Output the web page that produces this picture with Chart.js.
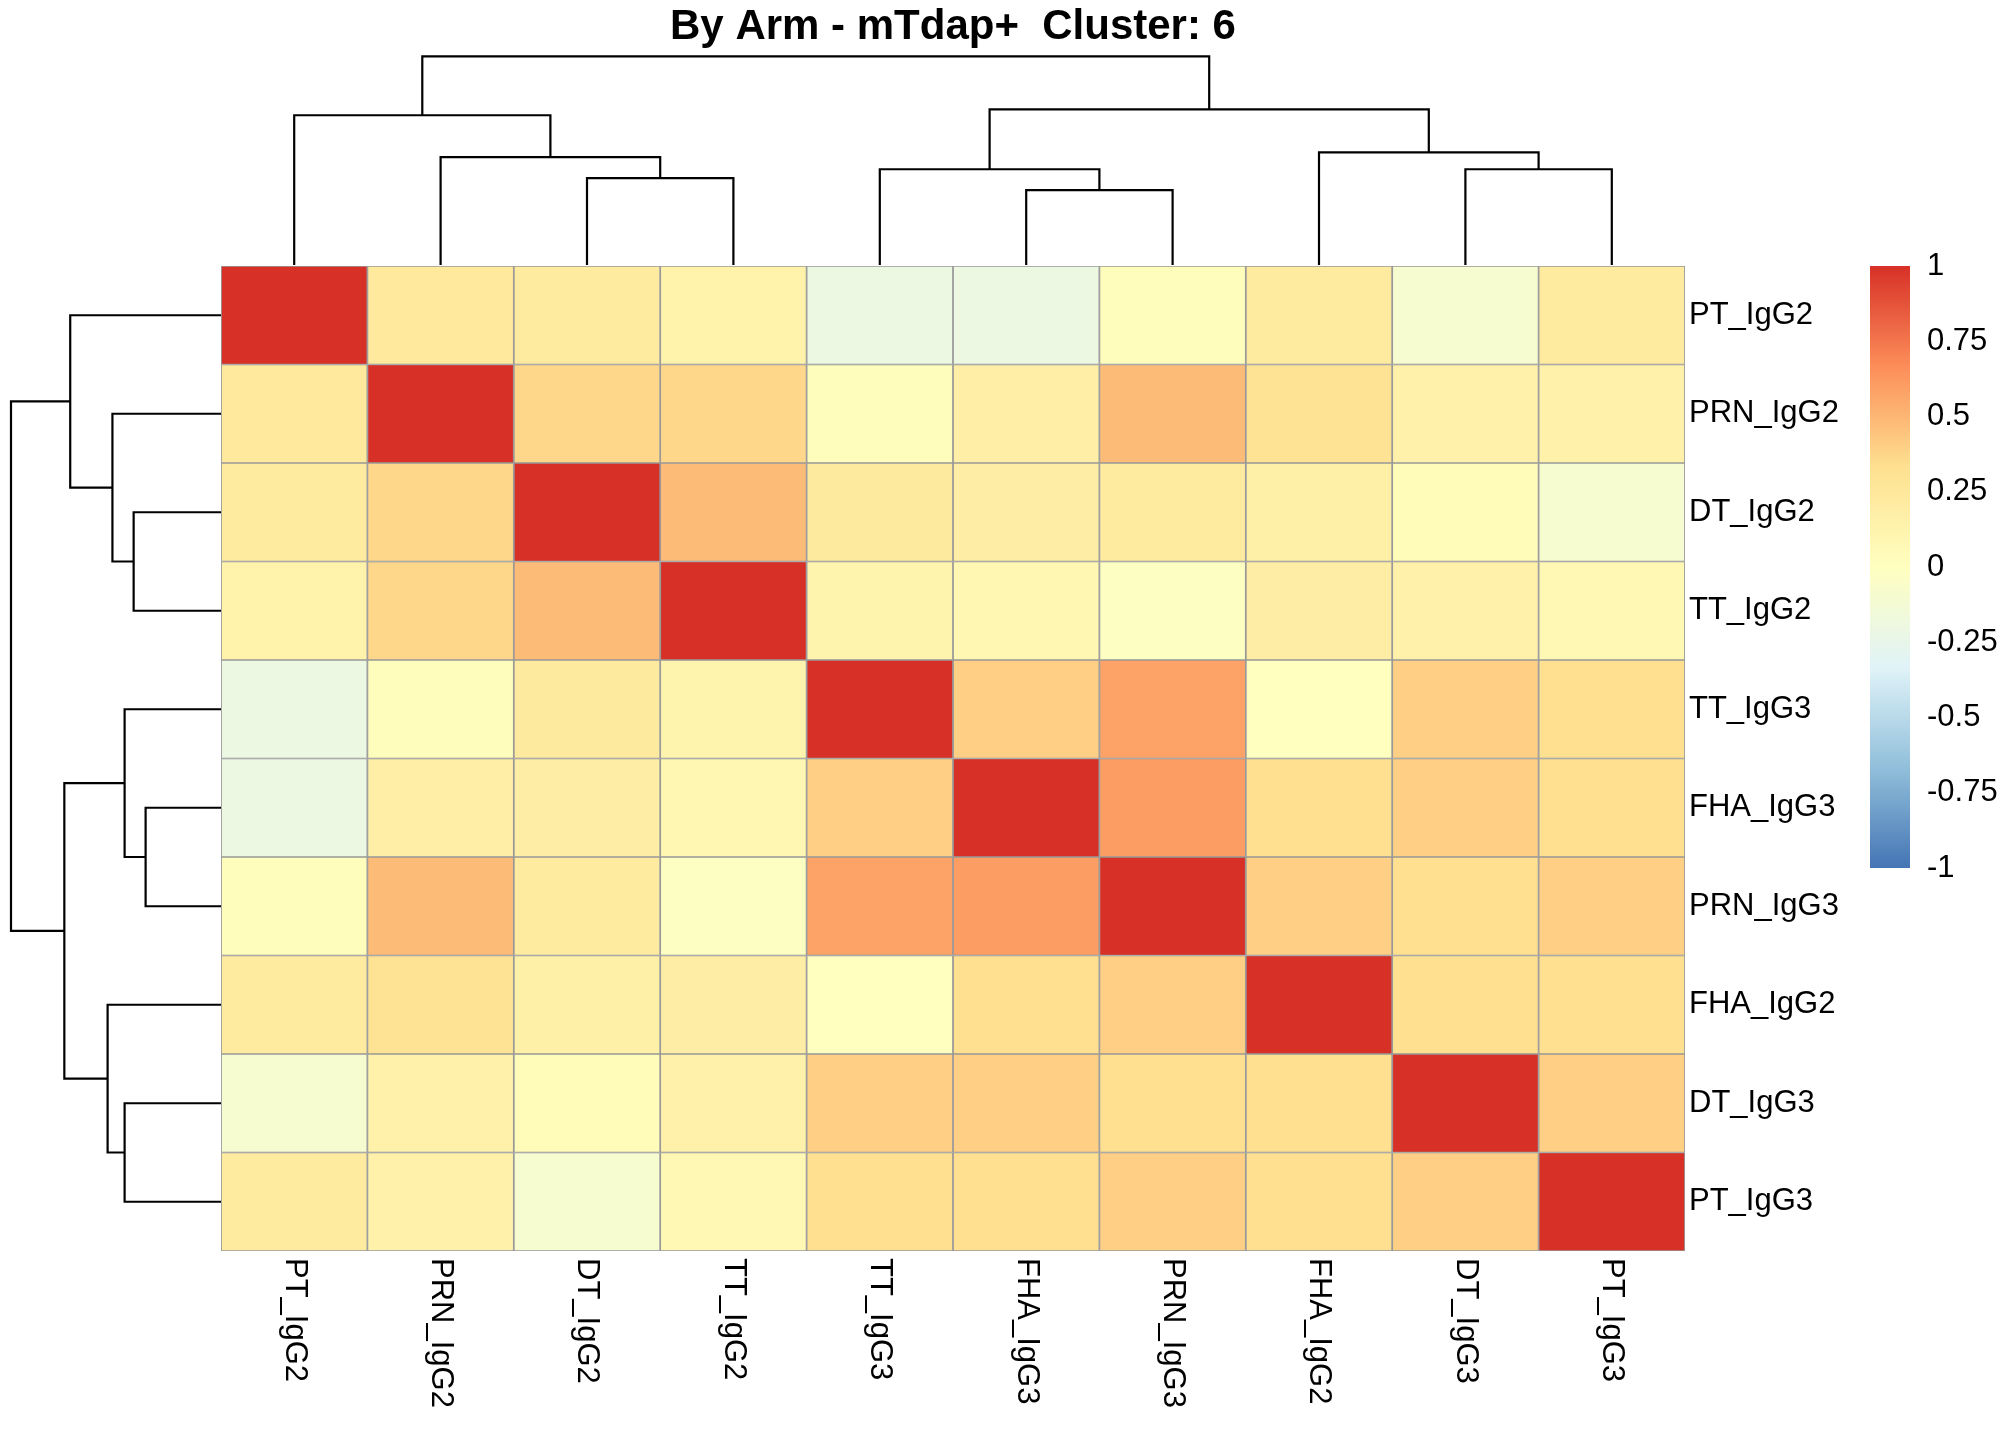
<!DOCTYPE html>
<html>
<head>
<meta charset="utf-8">
<script src="https://cdn.jsdelivr.net/npm/chart.js@4/dist/chart.umd.min.js"></script>
<style>
  body { margin: 0; background: #fff; width: 2016px; height: 1440px; overflow: hidden; position: relative; }
  canvas { position: absolute; }
</style>
</head>
<body>
<canvas id="topTree" width="1464" height="265" style="left:221px;top:0px"></canvas>
<canvas id="sideTree" width="221" height="985" style="left:0px;top:266px"></canvas>
<canvas id="heat" width="1714" height="1174" style="left:221px;top:266px"></canvas>
<canvas id="legend" width="161" height="640" style="left:1855px;top:250px"></canvas>
<script>
// variables in dendrogram order (same for rows and columns)
const rowNames = ['PT_IgG2', 'PRN_IgG2', 'DT_IgG2', 'TT_IgG2', 'TT_IgG3', 'FHA_IgG3', 'PRN_IgG3', 'FHA_IgG2', 'DT_IgG3', 'PT_IgG3'];
const colNames = ['PT_IgG2', 'PRN_IgG2', 'DT_IgG2', 'TT_IgG2', 'TT_IgG3', 'FHA_IgG3', 'PRN_IgG3', 'FHA_IgG2', 'DT_IgG3', 'PT_IgG3'];

// correlation matrix
const corr = [
  [1.00, 0.24, 0.22, 0.14, -0.20, -0.20, 0.02, 0.22, -0.10, 0.22],
  [0.24, 1.00, 0.37, 0.37, 0.02, 0.18, 0.48, 0.30, 0.15, 0.15],
  [0.22, 0.37, 1.00, 0.48, 0.23, 0.19, 0.22, 0.16, 0.04, -0.10],
  [0.14, 0.37, 0.48, 1.00, 0.12, 0.09, -0.02, 0.19, 0.15, 0.07],
  [-0.20, 0.02, 0.23, 0.12, 1.00, 0.40, 0.58, 0.00, 0.40, 0.33],
  [-0.20, 0.18, 0.19, 0.09, 0.40, 1.00, 0.60, 0.33, 0.40, 0.33],
  [0.02, 0.48, 0.22, -0.02, 0.58, 0.60, 1.00, 0.40, 0.33, 0.40],
  [0.22, 0.30, 0.16, 0.19, 0.00, 0.33, 0.40, 1.00, 0.33, 0.33],
  [-0.10, 0.15, 0.04, 0.15, 0.40, 0.40, 0.33, 0.33, 1.00, 0.40],
  [0.22, 0.15, -0.10, 0.07, 0.33, 0.33, 0.40, 0.33, 0.40, 1.00]
];

// hclust style merges: negative = leaf (1-based), positive = earlier merge
const mergeA = [-6, -3, -5, -9, -2, -8, -1, 3, 7];
const mergeB = [-7, -4, 1, -10, 2, 4, 5, 6, 8];
const mergeHeight = [0.359, 0.416, 0.459, 0.459, 0.517, 0.540, 0.718, 0.746, 1.0];

const palette = ['#4575B4', '#91BFDB', '#E0F3F8', '#FFFFBF', '#FEE090', '#FC8D59', '#D73027'];
const legendTicks = [-1, -0.75, -0.5, -0.25, 0, 0.25, 0.5, 0.75, 1];

const titleText = 'By Arm - mTdap+  Cluster: 6';
const fontFamily = '"Liberation Sans", Arial, sans-serif';

Chart.defaults.animation = false;
Chart.defaults.color = '#000';
Chart.defaults.font.family = fontFamily;
Chart.defaults.plugins.legend.display = false;
Chart.defaults.plugins.tooltip.enabled = false;

function hexToRgb(h) {
  return [1, 3, 5].map(i => parseInt(h.slice(i, i + 2), 16));
}

function colorFor(v) {
  const t = (v + 1) / 2 * (palette.length - 1);
  const i = Math.min(Math.floor(t), palette.length - 2);
  const f = t - i;
  const a = hexToRgb(palette[i]), b = hexToRgb(palette[i + 1]);
  const c = a.map((x, k) => Math.round(x + (b[k] - x) * f));
  return `rgb(${c[0]},${c[1]},${c[2]})`;
}

function dendroDatasets(sideways) {
  const pos = [], hgt = [];
  const nodePos = k => k < 0 ? (-k - 0.5) : pos[k - 1];
  const nodeH = k => k < 0 ? 0 : hgt[k - 1];
  return mergeA.map((a, m) => {
    const b = mergeB[m], h = mergeHeight[m];
    const pa = nodePos(a), pb = nodePos(b);
    const pts = [[pa, nodeH(a)], [pa, h], [pb, h], [pb, nodeH(b)]];
    pos.push((pa + pb) / 2);
    hgt.push(h);
    return {
      data: pts.map(([p, v]) => sideways ? { x: v, y: p } : { x: p, y: v }),
      showLine: true,
      borderColor: '#000',
      borderWidth: 2.2,
      pointRadius: 0,
      fill: false,
      clip: false
    };
  });
}

// keep tick labels from pushing the plot area in
const noEdgePadding = s => { s.paddingTop = 0; s.paddingBottom = 0; };

const rootH = Math.max(...mergeHeight);

// column dendrogram + title
new Chart(document.getElementById('topTree'), {
  type: 'scatter',
  data: { datasets: dendroDatasets(false) },
  options: {
    responsive: false,
    layout: { padding: 0 },
    plugins: {
      title: {
        display: true,
        text: titleText,
        color: '#000',
        font: { size: 42, weight: 'bold', family: fontFamily },
        padding: { top: 2, bottom: 4 }
      }
    },
    scales: {
      x: { type: 'linear', min: 0, max: colNames.length, display: false },
      y: { type: 'linear', min: 0, max: rootH, display: false }
    }
  }
});

// row dendrogram
new Chart(document.getElementById('sideTree'), {
  type: 'scatter',
  data: { datasets: dendroDatasets(true) },
  options: {
    responsive: false,
    layout: { padding: { left: 11, right: 0, top: 0, bottom: 0 } },
    scales: {
      x: { type: 'linear', min: 0, max: rootH, reverse: true, display: false },
      y: { type: 'linear', min: 0, max: rowNames.length, reverse: true, display: false }
    }
  }
});

// heatmap cells: one stacked horizontal bar segment per cell
const colLabelPlugin = {
  id: 'colLabels',
  afterDraw(chart) {
    const { ctx, chartArea, scales } = chart;
    ctx.save();
    ctx.fillStyle = '#000';
    ctx.font = `31px ${fontFamily}`;
    ctx.textAlign = 'left';
    ctx.textBaseline = 'middle';
    colNames.forEach((name, j) => {
      ctx.save();
      ctx.translate(scales.x.getPixelForValue(j + 0.5), chartArea.bottom + 7);
      ctx.rotate(Math.PI / 2);
      ctx.fillText(name, 0, 0);
      ctx.restore();
    });
    ctx.restore();
  }
};

new Chart(document.getElementById('heat'), {
  type: 'bar',
  data: {
    labels: rowNames,
    datasets: colNames.map((c, j) => ({
      label: c,
      data: rowNames.map(() => 1),
      backgroundColor: rowNames.map((r, i) => colorFor(corr[i][j])),
      borderColor: '#999999',
      borderWidth: 1.2,
      borderSkipped: false,
      barPercentage: 1,
      categoryPercentage: 1,
      stack: 'cells'
    }))
  },
  options: {
    responsive: false,
    indexAxis: 'y',
    layout: { padding: { left: 0, right: 0, top: 0, bottom: 189 } },
    scales: {
      x: { type: 'linear', stacked: true, min: 0, max: colNames.length, display: false },
      y: {
        stacked: true,
        position: 'right',
        grid: { display: false, drawTicks: false },
        border: { display: false },
        ticks: { color: '#000', padding: 4, font: { size: 31 }, autoSkip: false },
        afterFit: s => { s.width = 250; noEdgePadding(s); }
      }
    }
  },
  plugins: [colLabelPlugin]
});

// colour key
new Chart(document.getElementById('legend'), {
  type: 'bar',
  data: {
    labels: [''],
    datasets: [{
      data: [[legendTicks[0], legendTicks[legendTicks.length - 1]]],
      backgroundColor: ctx => {
        const area = ctx.chart.chartArea;
        if (!area) return palette[3];
        const g = ctx.chart.ctx.createLinearGradient(0, area.bottom, 0, area.top);
        palette.forEach((p, i) => g.addColorStop(i / (palette.length - 1), p));
        return g;
      },
      borderWidth: 0,
      barPercentage: 1,
      categoryPercentage: 1
    }]
  },
  options: {
    responsive: false,
    layout: { padding: { left: 15, right: 0, top: 16, bottom: 22 } },
    scales: {
      x: { display: false },
      y: {
        position: 'right',
        min: legendTicks[0],
        max: legendTicks[legendTicks.length - 1],
        afterBuildTicks: s => { s.ticks = legendTicks.map(v => ({ value: v })); },
        grid: { display: false, drawTicks: false },
        border: { display: false },
        ticks: { color: '#000', padding: 17, font: { size: 31 }, callback: v => String(v) },
        afterFit: s => { s.width = 106; noEdgePadding(s); }
      }
    }
  }
});
</script>
</body>
</html>
